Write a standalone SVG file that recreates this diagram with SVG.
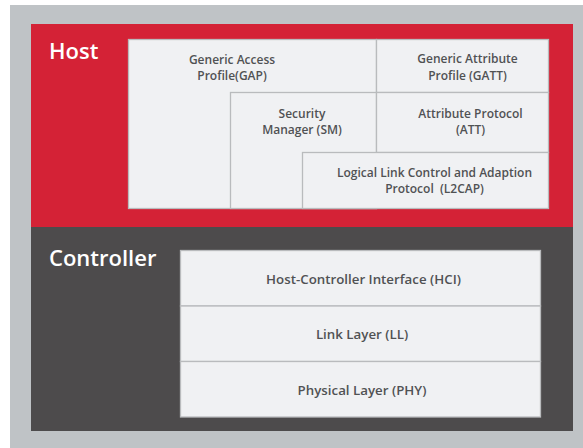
<svg xmlns="http://www.w3.org/2000/svg" width="583" height="448" viewBox="0 0 583 448">
<style>
.box{fill:#f0f1f3;stroke:#b9bbbd;stroke-width:1.3}
.t{font-family:"Open Sans","Noto Sans",sans-serif;font-weight:600;font-size:12px;fill:#505254;text-anchor:middle}
.c{font-size:13.3px}
.h{font-family:"Open Sans","Noto Sans",sans-serif;font-weight:600;font-size:22px;fill:#ffffff}
</style>
<rect x="0" y="0" width="583" height="448" fill="#ffffff"/>
<rect x="10" y="5" width="573" height="443" fill="#bfc3c6"/>
<rect x="31" y="24" width="542" height="203" fill="#d42236"/>
<rect x="31" y="227" width="542" height="204" fill="#4d4b4c"/>
<text class="h" x="49" y="59">Host</text>
<text class="h" x="49" y="266">Controller</text>
<g id="gap"><rect class="box" x="128.5" y="39.5" width="248" height="169"/>
<text class="t" x="232" y="64">Generic Access</text><text class="t" x="232" y="80">Profile(GAP)</text></g>
<g id="gatt"><rect class="box" x="376.5" y="39.5" width="172" height="53"/>
<text class="t" x="467.5" y="63">Generic Attribute</text><text class="t" x="467.5" y="80">Profile (GATT)</text></g>
<g id="sm"><rect class="box" x="230.5" y="92.5" width="146" height="116"/>
<text class="t" x="302" y="118">Security</text><text class="t" x="302" y="134">Manager (SM)</text></g>
<g id="att"><rect class="box" x="376.5" y="92.5" width="172" height="60"/>
<text class="t" x="470.5" y="118">Attribute Protocol</text><text class="t" x="470.5" y="134">(ATT)</text></g>
<g id="l2cap"><rect class="box" x="302.5" y="152.5" width="246" height="56"/>
<text class="t" x="434.5" y="177">Logical Link Control and Adaption</text><text class="t" x="434.5" y="193" xml:space="preserve">Protocol  (L2CAP)</text></g>
<g id="hci"><rect class="box" x="180.5" y="250.5" width="360" height="55.5"/>
<text class="t c" x="363.5" y="284">Host-Controller Interface (HCI)</text></g>
<g id="ll"><rect class="box" x="180.5" y="306" width="360" height="55.5"/>
<text class="t c" x="362" y="339">Link Layer (LL)</text></g>
<g id="phy"><rect class="box" x="180.5" y="361.5" width="360" height="55.5"/>
<text class="t c" x="362" y="395">Physical Layer (PHY)</text></g>
<g id="connectors"/>
</svg>
